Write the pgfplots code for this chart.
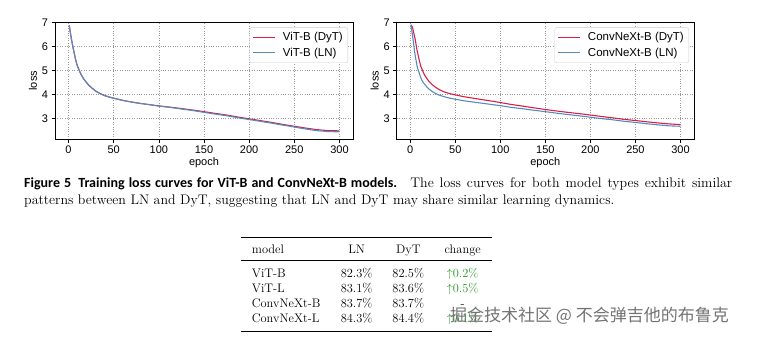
\documentclass[border=0pt]{standalone}
\usepackage{fontspec}
\usepackage{pgfplots}
\pgfplotsset{compat=1.18}
\newfontfamily\plotfont{Liberation Sans}
\newfontfamily\capsans{Carlito}
\newfontfamily\cjk{Noto Sans CJK SC}
\definecolor{dytred}{RGB}{214,32,72}
\definecolor{lnblue}{RGB}{84,140,190}
\definecolor{upgreen}{RGB}{30,150,30}
\pgfplotsset{lossax/.style={
  scale only axis, height=116.6pt,
  xmin=-15, xmax=315, ymin=2.14, ymax=7,
  xtick={0,50,100,150,200,250,300}, ytick={3,4,5,6,7},
  grid=major, major grid style={dotted, black!40, line width=0.55pt},
  tick pos=left, tick align=outside, major tick length=3.5pt,
  every tick/.style={black, line width=0.6pt},
  axis line style={line width=0.7pt},
  /pgf/number format/assume math mode=true,
  tick label style={font=\plotfont\fontsize{11}{12}\selectfont},
  label style={font=\plotfont\fontsize{11}{12}\selectfont},
  xlabel=epoch, ylabel=loss,
  xlabel style={yshift=3pt},
  ylabel style={yshift=-2pt},
  legend style={at={(1,1)}, xshift=-5pt, yshift=-5pt, anchor=north east,
    draw=black!20, rounded corners=2pt,
    font=\plotfont\fontsize{11.5}{13}\selectfont,
    row sep=1.5pt, inner xsep=3pt, inner ysep=3pt,
    /tikz/every odd column/.append style={column sep=5pt}},
  legend cell align=left,
  legend image code/.code={\draw[##1, line width=1.2pt] (0pt,0pt) -- (22pt,0pt);},
  every axis plot/.append style={line width=1.1pt, mark=none},
}}
\begin{document}
\begin{tikzpicture}
\path[use as bounding box] (0,0) rectangle (758pt,-338pt);
% ---------------- ViT-B
\begin{axis}[lossax, width=298pt, at={(55pt,-139pt)}, anchor=south west]
\addplot[draw=dytred] coordinates {(0.8,6.88)(2,6.58)(3.3,6.28)(5,5.95)(7.8,5.45)(9.5,5.22)(11.5,5.03)(14,4.82)(16.5,4.66)(18.9,4.54)(22,4.40)(26,4.26)(30,4.14)(35,4.03)(40,3.95)(45,3.89)(50,3.84)(60,3.75)(70,3.68)(80,3.62)(92,3.56)(100,3.52)(112,3.47)(125,3.41)(137,3.35)(150,3.28)(162,3.21)(175,3.14)(187,3.06)(200,2.98)(212,2.91)(225,2.83)(237,2.75)(250,2.67)(262,2.60)(275,2.53)(287,2.49)(300,2.48)};
\addlegendentry{ViT-B (DyT)}
\addplot[draw=lnblue] coordinates {(0.8,6.88)(2,6.58)(3.3,6.28)(5,5.95)(7.8,5.45)(9.5,5.22)(11.5,5.03)(14,4.82)(16.5,4.66)(18.9,4.54)(22,4.40)(26,4.26)(30,4.14)(35,4.03)(40,3.95)(45,3.89)(50,3.84)(60,3.75)(70,3.68)(80,3.62)(92,3.56)(100,3.51)(112,3.46)(125,3.39)(137,3.33)(150,3.25)(162,3.18)(175,3.11)(187,3.03)(200,2.95)(212,2.88)(225,2.80)(237,2.72)(250,2.64)(262,2.56)(275,2.49)(287,2.45)(300,2.44)};
\addlegendentry{ViT-B (LN)}
\end{axis}
% ---------------- ConvNeXt-B
\begin{axis}[lossax, width=297.3pt, at={(396.7pt,-139pt)}, anchor=south west]
\addplot[draw=dytred] coordinates {(0.8,6.9)(2.5,6.8)(4,6.55)(5.6,6.28)(7.5,5.85)(9.9,5.45)(11.5,5.2)(13.6,5.0)(16,4.80)(18.5,4.66)(20.9,4.54)(24,4.42)(28,4.30)(32,4.20)(38,4.10)(44,4.03)(50,3.98)(60,3.90)(70,3.84)(80,3.78)(94,3.70)(100,3.66)(112,3.58)(125,3.51)(137,3.44)(150,3.37)(162,3.31)(175,3.25)(187,3.20)(200,3.14)(212,3.08)(225,3.02)(237,2.96)(250,2.91)(262,2.86)(275,2.81)(287,2.77)(300,2.74)};
\addlegendentry{ConvNeXt-B (DyT)}
\addplot[draw=lnblue] coordinates {(0.8,6.9)(2,6.6)(3.5,6.2)(5,5.75)(6.3,5.45)(8,5.12)(9.9,4.90)(11.5,4.72)(13.6,4.54)(16,4.42)(18.5,4.31)(20.9,4.22)(24,4.13)(28,4.04)(32,3.97)(38,3.90)(44,3.84)(50,3.80)(60,3.73)(70,3.68)(80,3.63)(94,3.56)(100,3.53)(112,3.46)(125,3.40)(137,3.34)(150,3.28)(162,3.22)(175,3.16)(187,3.11)(200,3.05)(212,2.99)(225,2.94)(237,2.88)(250,2.83)(262,2.78)(275,2.73)(287,2.69)(300,2.67)};
\addlegendentry{ConvNeXt-B (LN)}
\end{axis}
% ---------------- caption
\node[anchor=base west, inner sep=0pt] at (24pt,-187.5pt) {\parbox[t]{708pt}{\fontsize{13.9}{16.5}\selectfont
{\capsans\fontsize{14.0}{16.5}\selectfont\bfseries Figure 5\hspace{7pt}Training loss curves for ViT-B and ConvNeXt-B models.}\hspace{3pt} The loss curves for both model types exhibit similar\linebreak
patterns between LN and DyT, suggesting that LN and DyT may share similar learning dynamics.}};
% ---------------- table
\draw[line width=0.9pt] (240.7pt,-237.7pt) -- (491.7pt,-237.7pt);
\draw[line width=0.55pt] (240.7pt,-260.3pt) -- (491.7pt,-260.3pt);
\draw[line width=0.9pt] (240.7pt,-331.7pt) -- (491.7pt,-331.7pt);
\begin{scope}[every node/.style={inner sep=0pt, font=\fontsize{12.4}{14}\selectfont}]
\node[anchor=base west] at (251.7pt,-253.5pt) {model};
\node[anchor=base] at (356.7pt,-253.5pt) {LN};
\node[anchor=base] at (408.3pt,-253.5pt) {DyT};
\node[anchor=base] at (462.7pt,-253.5pt) {change};
\node[anchor=base west] at (251.7pt,-277.5pt) {ViT-B};
\node[anchor=base] at (356.7pt,-277.5pt) {82.3\%};
\node[anchor=base] at (408.3pt,-277.5pt) {82.5\%};
\node[anchor=base, text=upgreen] at (462.7pt,-277.5pt) {$\uparrow$0.2\%};
\node[anchor=base west] at (251.7pt,-292.5pt) {ViT-L};
\node[anchor=base] at (356.7pt,-292.5pt) {83.1\%};
\node[anchor=base] at (408.3pt,-292.5pt) {83.6\%};
\node[anchor=base, text=upgreen] at (462.7pt,-292.5pt) {$\uparrow$0.5\%};
\node[anchor=base west] at (251.7pt,-307.3pt) {ConvNeXt-B};
\node[anchor=base] at (356.7pt,-307.3pt) {83.7\%};
\node[anchor=base] at (408.3pt,-307.3pt) {83.7\%};
\node[anchor=base] at (462.7pt,-307.3pt) {-};
\node[anchor=base west] at (251.7pt,-322.3pt) {ConvNeXt-L};
\node[anchor=base] at (356.7pt,-322.3pt) {84.3\%};
\node[anchor=base] at (408.3pt,-322.3pt) {84.4\%};
\node[anchor=base, text=upgreen] at (462.7pt,-322.3pt) {$\uparrow$0.1\%};
\end{scope}
% ---------------- watermark
\node[anchor=west, inner sep=0pt, text=black!55, font=\cjk\fontsize{17}{20}\selectfont] at (450pt,-316pt) {掘金技术社区 @ 不会弹吉他的布鲁克};
\end{tikzpicture}
\end{document}
